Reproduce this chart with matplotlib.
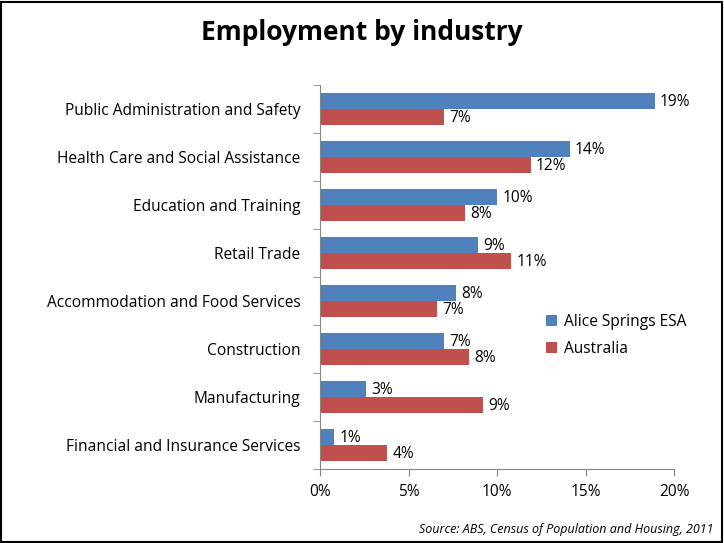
import numpy as np
import matplotlib.pyplot as plt
from matplotlib.patches import Rectangle

plt.rcParams['font.family'] = ['Open Sans', 'DejaVu Sans']

industries = ['Public Administration and Safety', 'Health Care and Social Assistance',
              'Education and Training', 'Retail Trade', 'Accommodation and Food Services',
              'Construction', 'Manufacturing', 'Financial and Insurance Services']
alice = [18.9, 14.1, 10.0, 8.9, 7.7, 7.0, 2.6, 0.8]
australia = [7.0, 11.9, 8.2, 10.8, 6.6, 8.4, 9.2, 3.8]
xticks = [0, 5, 10, 15, 20]

blue = '#4f81bd'
red = '#c0504d'
fs = 11.2

fig = plt.figure(figsize=(7.24, 5.43), dpi=100)
ax = fig.add_axes([0.442, 0.1363, 0.489, 0.7072])

n = len(industries)
y = np.arange(n)[::-1]
h = 0.333
ax.barh(y + h / 2, alice, height=h, color=blue, label='Alice Springs ESA')
ax.barh(y - h / 2, australia, height=h, color=red, label='Australia')

# data labels
for yy, v in zip(y, alice):
    ax.text(v + 0.3, yy + h / 2 - 0.03, '%d%%' % round(v), va='center', ha='left', fontsize=fs)
for yy, v in zip(y, australia):
    ax.text(v + 0.3, yy - h / 2 - 0.03, '%d%%' % round(v), va='center', ha='left', fontsize=fs)

ax.set_xlim(0, 20)
ax.set_ylim(-0.5, n - 0.5)
ax.set_xticks(xticks)
ax.set_xticklabels(['%d%%' % t for t in xticks], fontsize=fs)
ax.set_yticks(y)
ax.set_yticklabels(industries, fontsize=fs)
ax.tick_params(axis='y', length=0, pad=14)
ax.set_yticks(np.arange(n + 1) - 0.5, minor=True)
ax.tick_params(axis='y', which='minor', length=5, color='#868686')
ax.tick_params(axis='x', length=5, color='#868686', pad=6)
for s in ['top', 'right']:
    ax.spines[s].set_visible(False)
for s in ['left', 'bottom']:
    ax.spines[s].set_color('#868686')

ax.legend(loc='upper left', bbox_to_anchor=(0.6, 0.44), frameon=False, fontsize=fs,
          handlelength=0.7, handleheight=0.7, handletextpad=0.4, labelspacing=0.7)

fig.text(0.5, 0.94, 'Employment by industry', ha='center', va='center',
         fontsize=19, fontweight='bold')
fig.text(0.985, 0.025, 'Source: ABS, Census of Population and Housing, 2011', ha='right',
         va='center', fontsize=9, style='italic')

fig.patches.append(Rectangle((0.002, 0.002), 0.995, 0.995, transform=fig.transFigure,
                             fill=False, edgecolor='black', linewidth=1.5))

fig.savefig('out.png', dpi=100)
